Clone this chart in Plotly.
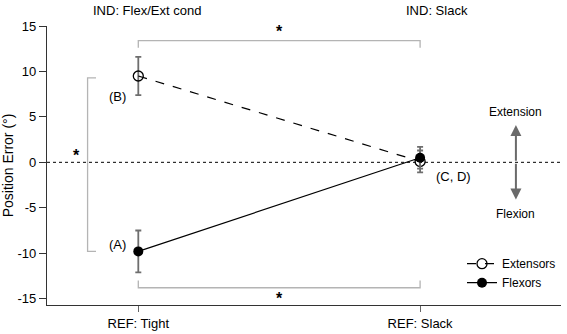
import plotly.graph_objects as go

# ---- data ----
conditions = ["REF: Tight", "REF: Slack"]
ind_labels = ["IND: Flex/Ext cond", "IND: Slack"]
cond_x = [0, 1]
extensors = [9.5, 0.1]
extensors_err = [2.1, 1.2]
flexors = [-9.8, 0.5]
flexors_err = [2.3, 1.2]
y_ticks = [-15, -10, -5, 0, 5, 10, 15]

FONT = "Liberation Sans, Arial, sans-serif"
BR = "#b4b4b4"

fig = go.Figure()

fig.add_trace(go.Scatter(
    x=cond_x, y=extensors, name="Extensors", mode="lines+markers",
    line=dict(color="black", width=1.2, dash="dash"),
    marker=dict(symbol="circle-open", size=10, color="black", line=dict(width=1.3)),
    error_y=dict(type="data", array=extensors_err, color="#6e6e6e", thickness=1.8, width=3),
))
fig.add_trace(go.Scatter(
    x=cond_x, y=flexors, name="Flexors", mode="lines+markers",
    line=dict(color="black", width=1.2),
    marker=dict(symbol="circle", size=10, color="black"),
    error_y=dict(type="data", array=flexors_err, color="#6e6e6e", thickness=1.8, width=3),
))

shapes = []
shapes.append(dict(type="line", xref="paper", yref="y", x0=0, x1=1, y0=0, y1=0,
                   line=dict(color="black", width=1, dash="dot"), layer="below"))
shapes.append(dict(type="path", xref="x", yref="y",
                   path="M 0,12.6 L 0,13.4 L 1,13.4 L 1,12.6",
                   line=dict(color=BR, width=1.3)))
shapes.append(dict(type="path", xref="x", yref="y",
                   path="M 0,-13.0 L 0,-13.8 L 1,-13.8 L 1,-13.0",
                   line=dict(color=BR, width=1.3)))
shapes.append(dict(type="path", xref="x", yref="y",
                   path="M -0.15,9.3 L -0.18,9.3 L -0.18,-9.8 L -0.15,-9.8",
                   line=dict(color=BR, width=1.3)))

ann = []
ann.append(dict(x=0.03, y=1.0, xref="x", yref="paper", yanchor="middle", yshift=16,
                text=ind_labels[0], showarrow=False, font=dict(size=13)))
ann.append(dict(x=1.06, y=1.0, xref="x", yref="paper", yanchor="middle", yshift=16,
                text=ind_labels[1], showarrow=False, font=dict(size=13)))
ann.append(dict(x=0.5, y=14.4, xref="x", yref="y", text="<b>*</b>", showarrow=False, font=dict(size=16)))
ann.append(dict(x=0.5, y=-15.0, xref="x", yref="y", text="<b>*</b>", showarrow=False, font=dict(size=16)))
ann.append(dict(x=-0.218, y=0.7, xref="x", yref="y", text="<b>*</b>", showarrow=False, font=dict(size=16)))
ann.append(dict(x=-0.075, y=7.2, xref="x", yref="y", text="(B)", showarrow=False, font=dict(size=13)))
ann.append(dict(x=-0.075, y=-9.0, xref="x", yref="y", text="(A)", showarrow=False, font=dict(size=13)))
ann.append(dict(x=1.12, y=-1.6, xref="x", yref="y", text="(C, D)", showarrow=False, font=dict(size=13)))
ann.append(dict(x=1.34, y=5.5, xref="x", yref="y", text="Extension", showarrow=False, font=dict(size=12)))
ann.append(dict(x=1.34, y=-5.7, xref="x", yref="y", text="Flexion", showarrow=False, font=dict(size=12)))
for yy in (4.1, -4.1):
    ann.append(dict(x=1.34, y=yy, ax=1.34, ay=0, xref="x", yref="y", axref="x", ayref="y",
                    text="", showarrow=True, arrowhead=2, arrowsize=1.1, arrowwidth=2,
                    arrowcolor="#6a6a6a"))

fig.update_layout(
    width=567, height=334,
    margin=dict(l=47, r=6, t=26, b=29),
    paper_bgcolor="white", plot_bgcolor="white",
    font=dict(family=FONT, size=13, color="black"),
    shapes=shapes, annotations=ann,
    showlegend=True,
    legend=dict(x=1.0, y=0.2, xanchor="right", yanchor="top", bgcolor="rgba(0,0,0,0)",
                font=dict(size=12), tracegroupgap=0, itemwidth=30, borderwidth=0),
    xaxis=dict(range=[-0.324, 1.5], showgrid=False, zeroline=False, showline=True,
               linecolor="#333", linewidth=1.2, ticks="outside", ticklen=6, tickwidth=1.2,
               tickcolor="#666", tickvals=cond_x, ticktext=conditions, automargin=False,
               tickfont=dict(size=13)),
    yaxis=dict(range=[-15.7, 15], showgrid=False, zeroline=False, showline=True,
               linecolor="#333", linewidth=1.2, ticks="outside", ticklen=7, tickwidth=1.2,
               tickcolor="#333", tickvals=y_ticks, ticktext=[str(v) for v in y_ticks],
               automargin=False, tickfont=dict(size=13),
               title=dict(text="Position Error (°)", standoff=4, font=dict(size=14))),
)

fig.write_html("out.html", config={"displayModeBar": False},
               post_script="document.body.style.margin='0';")
